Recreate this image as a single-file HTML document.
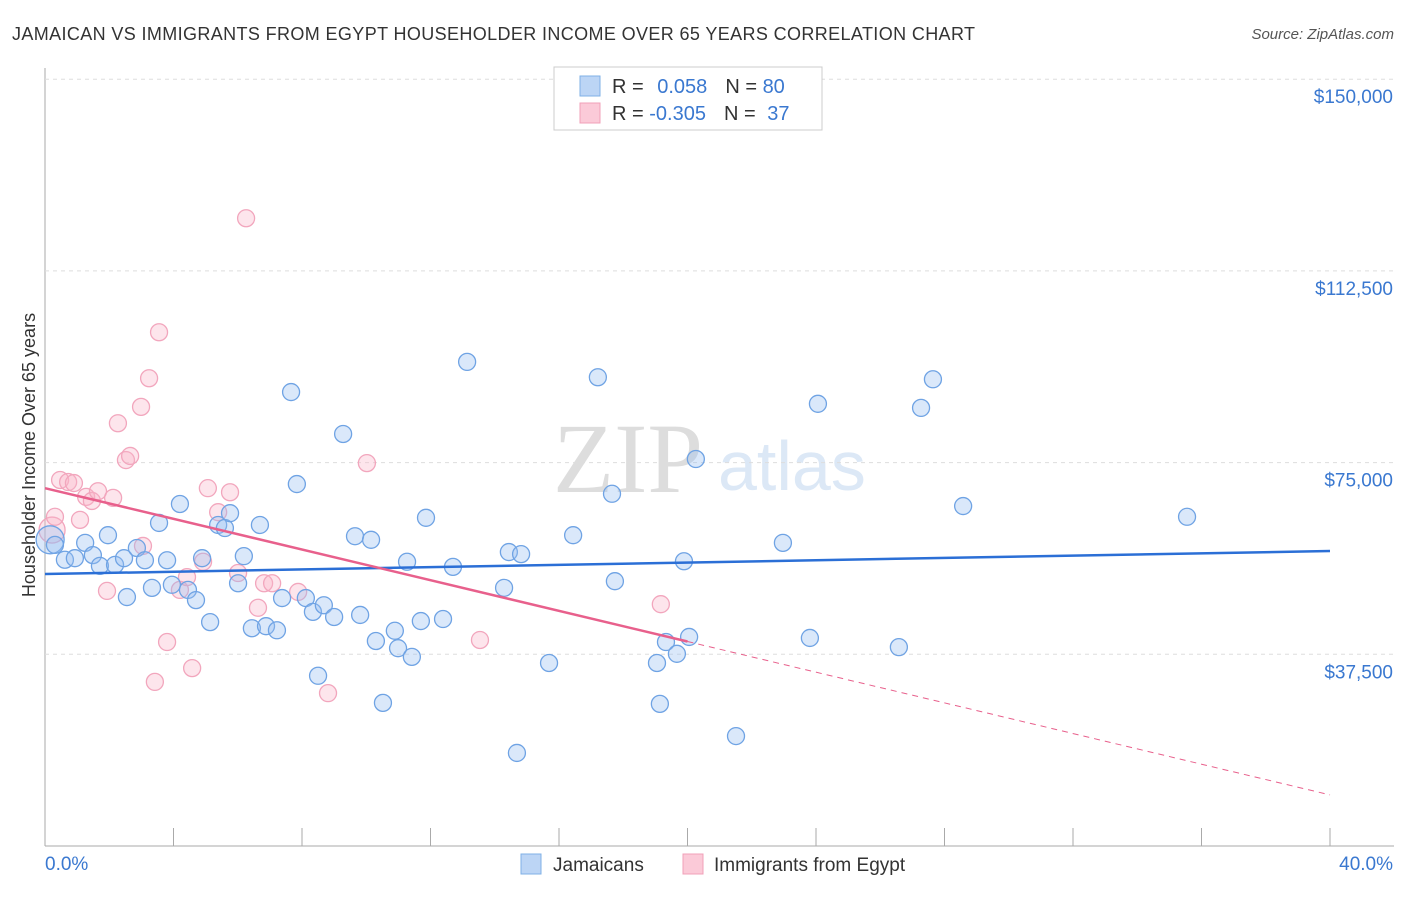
<!DOCTYPE html>
<html><head><meta charset="utf-8"><style>
body{margin:0;background:#fff;font-family:"Liberation Sans",sans-serif;}
#wrap{position:relative;width:1406px;height:892px;}
</style></head><body>
<div id="wrap">
<svg id="svg" width="1406" height="892">
<text x="12" y="40" font-size="18" fill="#333" textLength="963" lengthAdjust="spacing">JAMAICAN VS IMMIGRANTS FROM EGYPT HOUSEHOLDER INCOME OVER 65 YEARS CORRELATION CHART</text>
<text x="1394" y="39" font-size="15" fill="#555" text-anchor="end" font-style="italic">Source: ZipAtlas.com</text>
<text x="35" y="455" font-size="18" fill="#333" text-anchor="middle" transform="rotate(-90 35 455)">Householder Income Over 65 years</text>
<text x="553" y="492" font-size="100" fill="#ddd" font-family="Liberation Serif">ZIP</text>
<text x="718" y="490" font-size="70" fill="#dce8f6">atlas</text>
<g id="grid"></g><g id="pts"></g><g id="trend"></g>
<g>
<rect x="554" y="67" width="268" height="63" fill="#fff" stroke="#ccc"/>
<rect x="580" y="76" width="20" height="20" fill="#bcd5f5" stroke="#7fb0e6"/>
<rect x="580" y="103" width="20" height="20" fill="#fbcad8" stroke="#f0a0b8"/>
<text x="612" y="93" font-size="20" fill="#333">R = <tspan fill="#3a78d0" dx="8">0.058</tspan><tspan dx="18" fill="#333">N = </tspan><tspan fill="#3a78d0">80</tspan></text>
<text x="612" y="120" font-size="20" fill="#333">R = <tspan fill="#3a78d0">-0.305</tspan><tspan dx="18" fill="#333">N = </tspan><tspan fill="#3a78d0" dx="6">37</tspan></text>
</g>
<g>
<rect x="521" y="854" width="20" height="20" fill="#bcd5f5" stroke="#7fb0e6"/>
<text x="553" y="871" font-size="19" fill="#333">Jamaicans</text>
<rect x="683" y="854" width="20" height="20" fill="#fbcad8" stroke="#f0a0b8"/>
<text x="714" y="871" font-size="19" fill="#333">Immigrants from Egypt</text>
</g>
</svg></div>
<script>
const yTicks=[37500,75000,112500,150000];
const yTickLabels=["$37,500","$75,000","$112,500","$150,000"];
const xTickValues=[0,4,8,12,16,20,24,28,32,36,40];
const blueX=[0.16,0.31,0.62,0.93,1.25,1.49,1.71,1.96,2.18,2.46,2.55,2.86,3.11,3.33,3.55,3.80,3.95,4.20,4.45,4.70,4.89,5.14,5.39,5.60,5.76,6.01,6.19,6.44,6.69,6.88,7.22,7.38,7.66,7.84,8.12,8.34,8.68,9.00,8.50,9.28,9.65,9.81,10.15,10.30,10.52,10.89,10.99,11.27,11.42,11.70,11.86,12.39,12.70,13.14,14.29,14.44,14.69,14.82,15.69,16.44,17.21,17.65,17.74,19.05,19.14,19.33,19.67,19.89,20.05,20.26,21.51,22.97,23.81,24.06,26.58,27.27,27.64,28.58,35.55];
const blueY=[59.9,58.9,56.0,56.3,59.3,56.9,54.8,60.8,55.0,56.3,48.7,58.3,55.9,50.5,63.2,55.9,51.1,66.9,50.1,48.1,56.3,43.8,62.8,62.2,65.1,51.4,56.7,42.6,62.8,43.0,42.2,48.5,88.8,70.8,48.5,45.8,47.1,44.8,33.3,80.6,60.6,45.2,59.9,40.1,28.0,42.1,38.7,55.6,37.0,44.0,64.2,44.4,54.6,94.7,50.5,57.5,18.2,57.1,35.8,60.8,91.7,68.9,51.8,35.8,27.8,39.9,37.6,55.7,40.9,75.7,21.5,59.3,40.7,86.5,38.9,85.7,91.3,66.5,64.4];
const pinkX=[0.22,0.31,0.47,0.72,0.90,1.09,1.28,1.46,1.65,1.93,2.12,2.27,2.52,2.65,2.99,3.05,3.24,3.42,3.55,3.80,4.20,4.42,4.58,4.92,5.07,5.39,5.76,6.01,6.26,6.63,6.82,7.07,7.88,8.81,10.02,13.54,19.17];
const pinkY=[61.8,64.4,71.6,71.2,71.0,63.8,68.3,67.5,69.4,49.9,68.1,82.7,75.5,76.3,85.9,58.7,91.5,32.1,100.5,39.9,50.1,52.6,34.8,55.6,70.0,65.3,69.2,53.4,122.8,46.6,51.4,51.4,49.7,29.9,74.9,40.3,47.3];
const blueTrend=[53.2,57.7];
const pinkTrend=[70.0,10.0];
const pinkSolidEnd=20;
const NS="http://www.w3.org/2000/svg";
const X=v=>45+v*32.125, Y=v=>846-v*191.7/37500;
function mk(t,a,p){const e=document.createElementNS(NS,t);for(const k in a)e.setAttribute(k,a[k]);p.appendChild(e);return e;}
const grid=document.getElementById('grid');
const ax=mk('line',{x1:45,y1:68,x2:45,y2:846,stroke:'#aaa'},grid);


const bx=mk('line',{x1:45,y1:846,x2:1394,y2:846,stroke:'#aaa'},grid);


yTicks.forEach((t,i)=>{
 const l=mk('line',{x1:45,x2:1394,y1:Y(t),y2:Y(t),stroke:'#ddd','stroke-dasharray':'4 4'},grid);
 
 
 const tx=mk('text',{x:1393,y:Y(t)+24,'font-size':19,fill:'#3a78d0','text-anchor':'end'},grid);
 tx.textContent=yTickLabels[i];
 
 
});
xTickValues.forEach(v=>{
 const l=mk('line',{x1:X(v),x2:X(v),y1:828,y2:846,stroke:'#aaa'},grid);
 
 
});
const xl0=mk('text',{x:45,y:870,'font-size':19,fill:'#3a78d0'},grid);xl0.textContent='0.0%';


const xl1=mk('text',{x:1393,y:870,'font-size':19,fill:'#3a78d0','text-anchor':'end'},grid);xl1.textContent='40.0%';


const pts=document.getElementById('pts');
pinkX.forEach((x,i)=>{
 const c=mk('circle',{cx:X(x),cy:Y(pinkY[i]*1000),r:i==0?13:8.5,fill:'rgba(248,180,200,0.35)',stroke:'#f2a6bd','stroke-width':1.3},pts);
 
 
});
blueX.forEach((x,i)=>{
 const c=mk('circle',{cx:X(x),cy:Y(blueY[i]*1000),r:i==0?14:8.5,fill:'rgba(150,190,240,0.35)',stroke:'#6fa3e4','stroke-width':1.3},pts);
 
 
});
const tr=document.getElementById('trend');
const b=mk('line',{x1:X(0),y1:Y(blueTrend[0]*1000),x2:X(40),y2:Y(blueTrend[1]*1000),stroke:'#2b6fd6','stroke-width':2.5},tr);


const pm=pinkTrend[0]+(pinkTrend[1]-pinkTrend[0])*pinkSolidEnd/40;
const p1=mk('line',{x1:X(0),y1:Y(pinkTrend[0]*1000),x2:X(pinkSolidEnd),y2:Y(pm*1000),stroke:'#e8608c','stroke-width':2.5},tr);


const p2=mk('line',{x1:X(pinkSolidEnd),y1:Y(pm*1000),x2:X(40),y2:Y(pinkTrend[1]*1000),stroke:'#e8608c','stroke-width':1,'stroke-dasharray':'6 5'},tr);


</script>
</body></html>
